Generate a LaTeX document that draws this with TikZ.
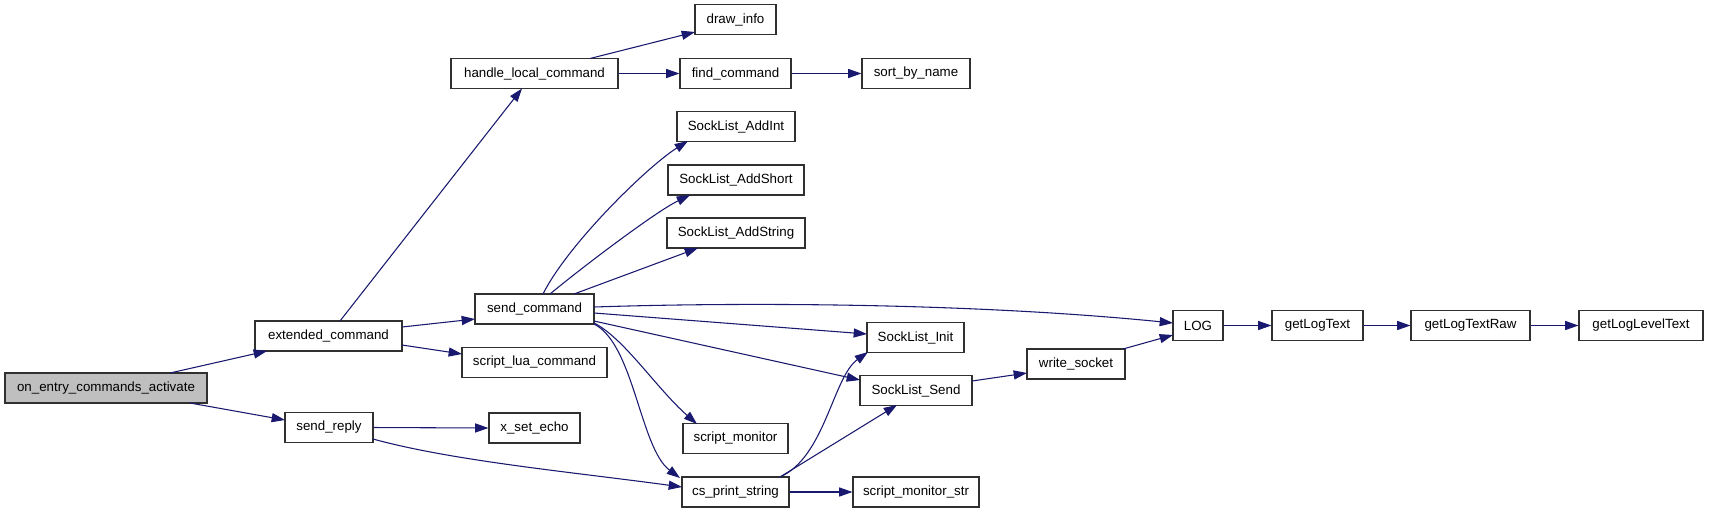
\documentclass[tikz,border=0pt]{standalone}
\usepackage{fontspec}
\setmainfont{Liberation Sans}
\usetikzlibrary{arrows.meta,calc}
\definecolor{edgecol}{HTML}{191970}
\definecolor{rootfill}{HTML}{BFBFBF}
\definecolor{boxline}{HTML}{303030}
\begin{document}
\begin{tikzpicture}[x=0.75pt,y=-0.75pt,
  fn/.style={draw=boxline,line width=0.8pt,fill=white,minimum height=22.5pt,inner sep=0pt,font=\fontsize{10pt}{12pt}\selectfont,anchor=center},
  wd/.style={minimum width=#1*0.75pt},
  root/.style={fn,fill=rootfill},
  call/.style={draw=edgecol,line width=0.8pt,-{Triangle[length=10pt,width=6.8pt]}}]
\useasboundingbox[fill=white] (0,0) rectangle (1709,512);
% nodes
\node[root,wd=202] (oe) at (106,388) {on\_entry\_commands\_activate};
\node[fn,wd=147] (ext) at (328.5,336) {extended\_command};
\node[fn,wd=88] (sr) at (329,427.5) {send\_reply};
\node[fn,wd=167] (hlc) at (534.5,73.5) {handle\_local\_command};
\node[fn,wd=81] (di) at (735.5,19.5) {draw\_info};
\node[fn,wd=111] (fc) at (735.5,73.5) {find\_command};
\node[fn,wd=108] (sbn) at (916,73.5) {sort\_by\_name};
\node[fn,wd=118] (ai) at (736,126.5) {SockList\_AddInt};
\node[fn,wd=136] (ash) at (736,180) {SockList\_AddShort};
\node[fn,wd=138] (ast) at (736,233) {SockList\_AddString};
\node[fn,wd=119] (sc) at (534.5,309) {send\_command};
\node[fn,wd=145] (slc) at (534.5,362.5) {script\_lua\_command};
\node[fn,wd=91] (xse) at (534.5,428) {x\_set\_echo};
\node[fn,wd=105] (sm) at (735.5,438.5) {script\_monitor};
\node[fn,wd=107] (cps) at (735.5,492) {cs\_print\_string};
\node[fn,wd=50] (log) at (1198,325.5) {LOG};
\node[fn,wd=97] (sli) at (915.5,337.5) {SockList\_Init};
\node[fn,wd=112] (sls) at (916,390.5) {SockList\_Send};
\node[fn,wd=98] (ws) at (1076,364) {write\_socket};
\node[fn,wd=126] (sms) at (916,492) {script\_monitor\_str};
\node[fn,wd=91] (glt) at (1317.5,325.5) {getLogText};
\node[fn,wd=119] (gltr) at (1470.5,325.5) {getLogTextRaw};
\node[fn,wd=124] (gllt) at (1641,325.5) {getLogLevelText};
% edges
\draw[call] ($(oe.center)+(64,-15)$) -- ($(ext.center)+(-61.5,15)$);
\draw[call] ($(oe.center)+(84,15)$) -- ($(sr.center)+(-44,-7.5)$);
\draw[call] ($(ext.center)+(11.5,-15)$) -- ($(hlc.center)+(-12.5,15)$);
\draw[call] ($(ext.center)+(73.5,-9)$) -- ($(sc.center)+(-59.5,10)$);
\draw[call] ($(ext.center)+(73.5,9)$) -- ($(slc.center)+(-72.5,-8.5)$);
\draw[call] ($(hlc.center)+(55.5,-15)$) -- ($(di.center)+(-40.5,12.5)$);
\draw[call] (hlc.east) -- (fc.west);
\draw[call] (fc.east) -- (sbn.west);
\draw[call] ($(sc.center)+(8.5,-15)$) .. controls +(25,-50) and +(-40,25) .. ($(ai.center)+(-48,14.5)$);
\draw[call] ($(sc.center)+(15.5,-15)$) .. controls +(30,-25) and +(-35,17) .. ($(ash.center)+(-46,15)$);
\draw[call] ($(sc.center)+(39.5,-15)$) -- ($(ast.center)+(-38,15)$);
\draw[call] ($(sc.center)+(59.5,-2)$) .. controls +(150,-5) and +(-200,-20) .. ($(log.center)+(-25,-2.5)$);
\draw[call] ($(sc.center)+(59.5,4)$) -- ($(sli.center)+(-48.5,-3.5)$);
\draw[call] ($(sc.center)+(59.5,12)$) -- ($(sls.center)+(-56,-10.5)$);
\draw[call] ($(sc.center)+(59.5,14)$) .. controls +(30,15) and +(-40,-35) .. ($(sm.center)+(-38.5,-14.5)$);
\draw[call] ($(sc.center)+(59.5,15)$) .. controls +(40,20) and +(-40,-30) .. ($(cps.center)+(-55.5,-14)$);
\draw[call] (sr.east) -- (xse.west);
\draw[call] ($(sr.center)+(44,11.5)$) .. controls +(80,22) and +(-110,-15) .. ($(cps.center)+(-53.5,-5)$);
\draw[call] ($(cps.center)+(44.5,-15)$) .. controls +(45,-20) and +(-35,25) .. ($(sli.center)+(-47.5,14.5)$);
\draw[call] ($(cps.center)+(44.5,-15)$) -- ($(sls.center)+(-19,14.5)$);
\draw[call] (cps.east) -- (sms.west);
\draw[call] ($(sls.center)+(56,-9.5)$) -- ($(ws.center)+(-49,9)$);
\draw[call] ($(ws.center)+(47,-15)$) -- ($(log.center)+(-25,9.5)$);
\draw[call] (log.east) -- (glt.west);
\draw[call] (glt.east) -- (gltr.west);
\draw[call] (gltr.east) -- (gllt.west);
\end{tikzpicture}
\end{document}
